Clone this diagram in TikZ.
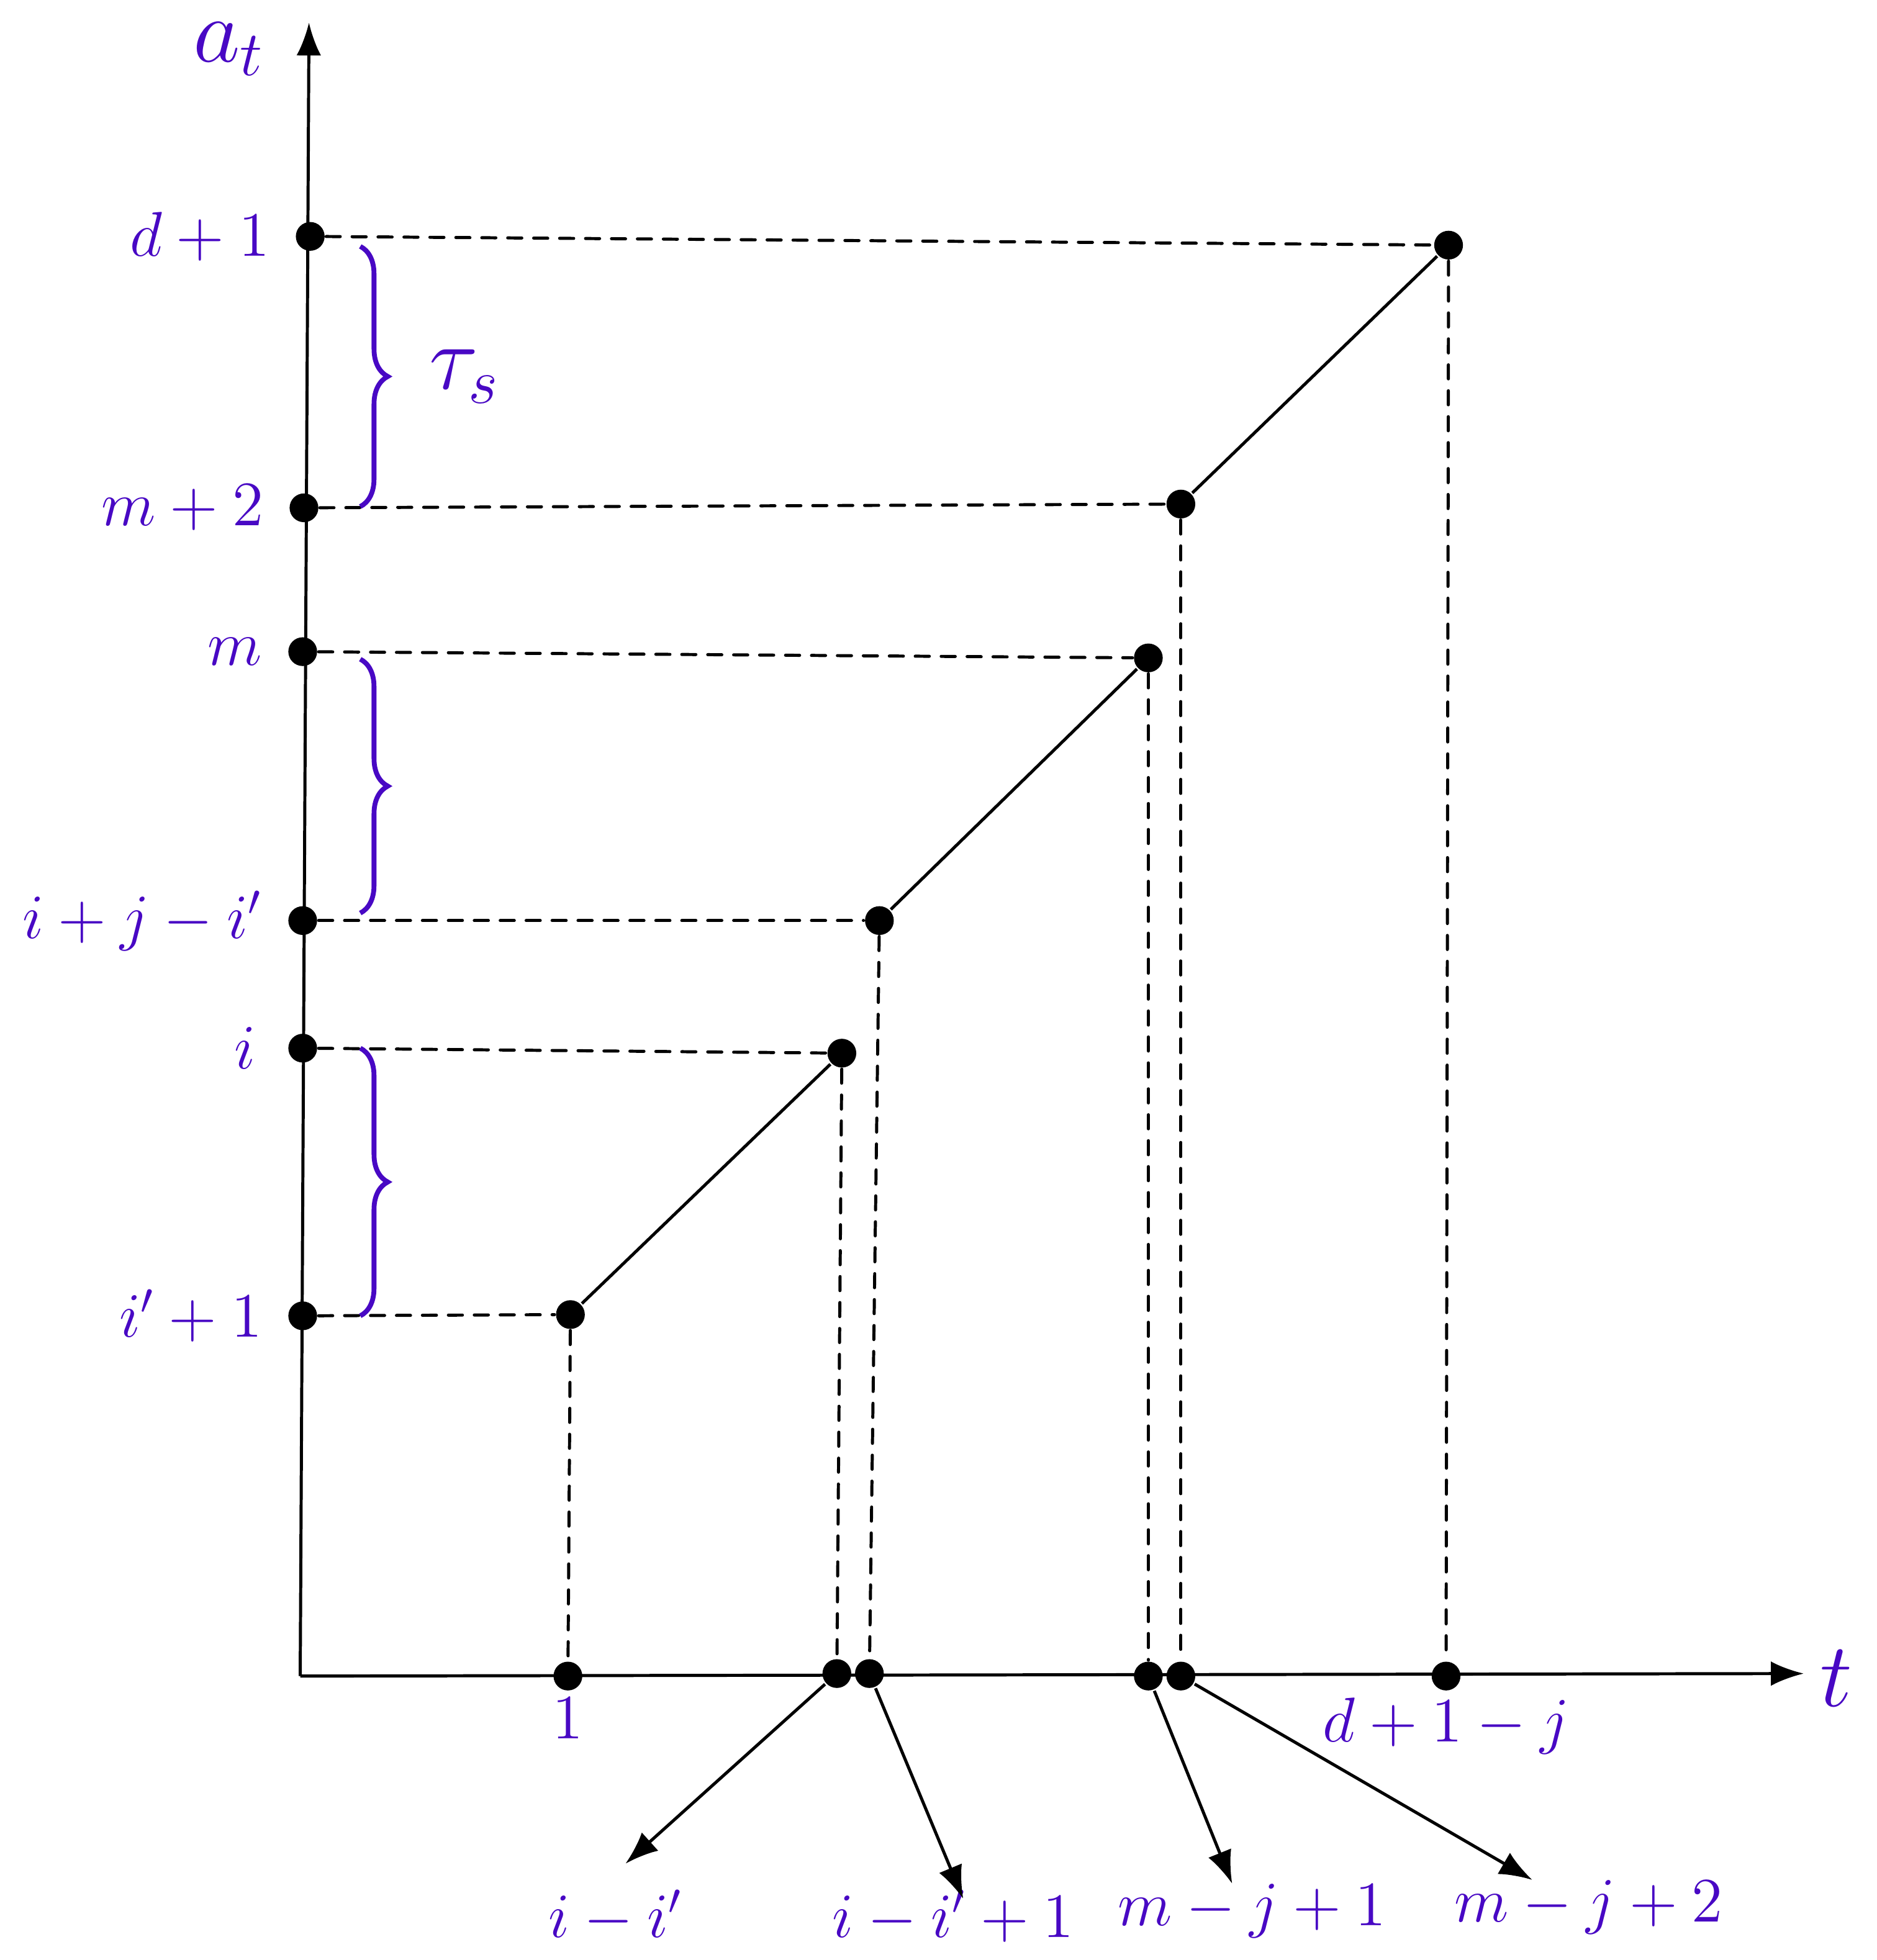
\documentclass[tikz,border=0pt]{standalone}
\usepackage{amsmath,amssymb}
\usepackage{tikz}
\usetikzlibrary{arrows.meta,positioning,decorations.pathreplacing}

\definecolor{lblviolet}{RGB}{72,8,196}
\tikzset{
  dot/.style={circle,fill=black,inner sep=0pt,minimum size=2.3mm},
  guide/.style={dash pattern=on 3.2pt off 2.7pt,line cap=round,line width=0.7pt},
  lbl/.style={text=lblviolet,inner sep=1pt,font=\Large},
  axislbl/.style={text=lblviolet,inner sep=1pt,font=\huge},
  span/.style={draw=lblviolet,line width=1.1pt,decorate,
    decoration={brace,amplitude=2.2mm}},
  tip/.style={-{Latex[length=7.5pt,width=5.6pt]}},
}

\begin{document}
\begin{tikzpicture}[line width=0.7pt]
    \useasboundingbox (-2.40,-2.27) rectangle (12.60,13.40);

    % axes
    \coordinate (O) at (0,0);
    \coordinate (ytop) at (0.07,13.22);
    \coordinate (xend) at (12.02,0.02);
    \draw[tip] (O) -- (ytop);
    \draw[tip] (O) -- (xend);
    \node[axislbl] (alab) at (-0.57,13.01) {$a_t$};
    \node[axislbl] (tlab) at (12.28,-0.02) {$t$};

    % values on the a_t axis
    \node[dot] (yd)  at (0.08,11.51) {};
    \node[dot] (ym2) at (0.03,9.34) {};
    \node[dot] (ym)  at (0.02,8.19) {};
    \node[dot] (yij) at (0.02,6.04) {};
    \node[dot] (yi)  at (0.02,5.02) {};
    \node[dot] (yi1) at (0.02,2.88) {};
    \node[lbl,left=0.15 of yd]  {$d+1$};
    \node[lbl,left=0.15 of ym2] {$m+2$};
    \node[lbl,left=0.15 of ym]  {$m$};
    \node[lbl,left=0.15 of yij] {$i+j-i'$};
    \node[lbl,left=0.2 of yi]  {$i$};
    \node[lbl,left=0.15 of yi1] {$i'+1$};

    % the three pieces
    \node[dot] (q1) at (2.16,2.89) {};
    \node[dot] (q2) at (4.33,4.98) {};
    \node[dot] (q3) at (4.63,6.04) {};
    \node[dot] (q4) at (6.78,8.14) {};
    \node[dot] (q5) at (7.04,9.37) {};
    \node[dot] (q6) at (9.18,11.44) {};
    \draw (q1) -- (q2);
    \draw (q3) -- (q4);
    \draw (q5) -- (q6);

    % values on the t axis
    \node[dot] (t1) at (2.14,0) {};
    \node[dot] (t2) at (4.29,0.02) {};
    \node[dot] (t3) at (4.55,0.02) {};
    \node[dot] (t4) at (6.78,0) {};
    \node[dot] (t5) at (7.04,0) {};
    \node[dot] (t6) at (9.16,0) {};
    \node[lbl,below=0.0 of t1] {$1$};
    \node[lbl,below=0.0 of t6] {$d+1-j$};

    % guides
    \foreach \a/\b in {yd/q6,ym2/q5,ym/q4,yij/q3,yi/q2,yi1/q1,
                       q1/t1,q2/t2,q3/t3,q4/t4,q5/t5,q6/t6}
      \draw[guide] (\a) -- (\b);

    % braces
    \draw[span] (0.48,11.43) -- (0.48,9.35)
      node[midway,right=0.5,axislbl] (tau) {$\tau_s$};
    \draw[span] (0.48,8.13) -- (0.48,6.10);
    \draw[span] (0.48,5.02) -- (0.48,2.88);

    % names of the t values
    \node[lbl] (l2) at (2.52,-1.92) {$i-i'$};
    \node[lbl] (l3) at (5.22,-1.92) {$i-i'+1$};
    \node[lbl] (l4) at (7.61,-1.88) {$m-j+1$};
    \node[lbl] (l5) at (10.30,-1.85) {$m-j+2$};
    \coordinate (e2) at (2.60,-1.50);
    \coordinate (e3) at (5.30,-1.78);
    \coordinate (e4) at (7.45,-1.66);
    \coordinate (e5) at (9.85,-1.63);
    \draw[tip] (t2) -- (e2);
    \draw[tip] (t3) -- (e3);
    \draw[tip] (t4) -- (e4);
    \draw[tip] (t5) -- (e5);
\end{tikzpicture}
\end{document}
